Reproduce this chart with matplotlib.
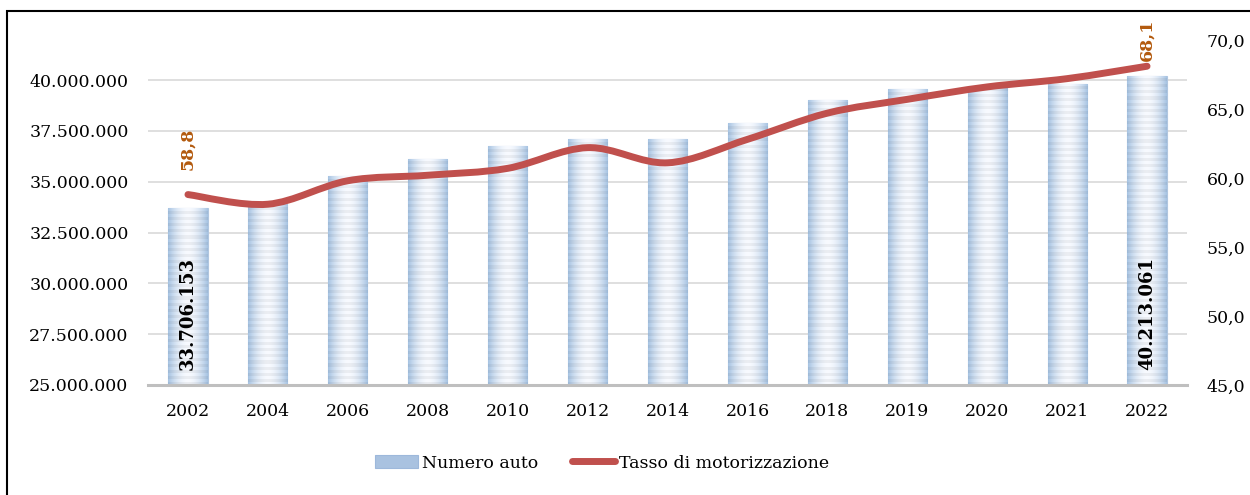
import numpy as np
import matplotlib
matplotlib.use("Agg")
import matplotlib.pyplot as plt
from matplotlib.path import Path
from matplotlib.patches import PathPatch, Rectangle, Patch
from matplotlib.lines import Line2D
from matplotlib.ticker import FuncFormatter

plt.rcParams["font.family"] = ["DejaVu Serif"]

# --- data ---
anni = ["2002", "2004", "2006", "2008", "2010", "2012", "2014",
        "2016", "2018", "2019", "2020", "2021", "2022"]
numero_auto = [33706153, 33900000, 35280000, 36120000, 36750000, 37080000, 37080000,
               37880000, 39020000, 39550000, 39720000, 39820000, 40213061]
tasso_motorizzazione = [58.8, 58.1, 59.8, 60.2, 60.7, 62.2, 61.1,
                        62.8, 64.7, 65.7, 66.6, 67.2, 68.1]
left_ticks = [25000000, 27500000, 30000000, 32500000, 35000000, 37500000, 40000000]
right_ticks = [45.0, 50.0, 55.0, 60.0, 65.0, 70.0]

LINE_C = "#C0504D"
LABEL_C = "#B35A0E"
FS = 12.5


def it_thousands(v, _):
    return f"{int(round(v)):,}".replace(",", ".")


def it_decimal(v, _):
    return f"{v:.1f}".replace(".", ",")


def bar_gradient(n_rows):
    """Horizontal blue-white-blue gradient with thin horizontal stripes."""
    xs = np.linspace(-1, 1, 40)
    t = np.abs(xs) ** 1.8
    edge = np.array([0.66, 0.77, 0.89])
    mid = np.array([0.97, 0.98, 1.00])
    row = mid[None, :] * (1 - t[:, None]) + edge[None, :] * t[:, None]
    img = np.repeat(row[None, :, :], n_rows, axis=0)
    stripes = np.where(np.arange(n_rows) % 2 == 0, 1.0, 0.95)
    return np.clip(img * stripes[:, None, None], 0, 1)


def smooth_path(xs, ys):
    pts = np.column_stack([xs, ys]).astype(float)
    verts = [pts[0]]
    codes = [Path.MOVETO]
    n = len(pts)
    for i in range(n - 1):
        p0 = pts[i - 1] if i > 0 else pts[i]
        p1, p2 = pts[i], pts[i + 1]
        p3 = pts[i + 2] if i + 2 < n else pts[i + 1]
        verts += [p1 + (p2 - p0) / 6, p2 - (p3 - p1) / 6, p2]
        codes += [Path.CURVE4] * 3
    return Path(verts, codes)


fig = plt.figure(figsize=(12.5, 4.95), dpi=100)
ax = fig.add_axes([148 / 1250, 1 - 385 / 495, 1039 / 1250, 345 / 495])
ax2 = ax.twinx()

x = np.arange(len(anni))
bars = ax.bar(x, numero_auto, width=0.49, color="#DCE6F2", edgecolor="#B0C6E0",
              linewidth=0.8, zorder=2)
ymin, ymax = 25000000, 41970000
for b, v in zip(bars, numero_auto):
    n_rows = max(2, int((v - ymin) / 150000))
    im = ax.imshow(bar_gradient(n_rows), aspect="auto", interpolation="nearest",
                   extent=(b.get_x(), b.get_x() + b.get_width(), ymin, v), zorder=2.5)
    im.set_clip_path(b)

ax.set_xlim(-0.5, len(anni) - 0.5)
ax.set_ylim(ymin, ymax)
ax.set_yticks(left_ticks)
ax.yaxis.set_major_formatter(FuncFormatter(it_thousands))
ax.set_xticks(x)
ax.set_xticklabels(anni)
ax.grid(axis="y", color="#D9D9D9", linewidth=1.2, zorder=0)
ax.set_axisbelow(True)
ax.tick_params(axis="y", length=0, pad=14, labelsize=FS)
ax.tick_params(axis="x", length=0, pad=13, labelsize=FS)
for s in ["top", "left", "right"]:
    ax.spines[s].set_visible(False)
ax.spines["bottom"].set_color("#BFBFBF")
ax.spines["bottom"].set_linewidth(2.2)
ax.spines["bottom"].set_zorder(3)

# bar value labels (first and last)
for i in (0, len(anni) - 1):
    ax.annotate(it_thousands(numero_auto[i], None), (x[i], ymin), xytext=(0, 11),
                textcoords="offset points", rotation=90, ha="center", va="bottom",
                fontsize=13, fontweight="bold", color="black", zorder=5)

ax2.set_ylim(45, 70)
ax2.set_yticks(right_ticks)
ax2.yaxis.set_major_formatter(FuncFormatter(it_decimal))
ax2.tick_params(axis="y", length=0, pad=14, labelsize=FS)
for s in ["top", "left", "right", "bottom"]:
    ax2.spines[s].set_visible(False)
line = PathPatch(smooth_path(x, tasso_motorizzazione), fill=False, edgecolor=LINE_C,
                 linewidth=5, capstyle="round", joinstyle="round", zorder=4)
ax2.add_patch(line)

ax2.annotate(it_decimal(tasso_motorizzazione[0], None), (x[0], tasso_motorizzazione[0]),
             xytext=(0, 18), textcoords="offset points", rotation=90, ha="center",
             va="bottom", fontsize=FS, fontweight="bold", color=LABEL_C)
ax2.annotate(it_decimal(tasso_motorizzazione[-1], None), (x[-1], tasso_motorizzazione[-1]),
             xytext=(0, 4), textcoords="offset points", rotation=90, ha="center",
             va="bottom", fontsize=FS, fontweight="bold", color=LABEL_C)

handles = [Patch(facecolor="#A9C2E0", edgecolor="#9DB8DB", linewidth=0.8),
           Line2D([0], [0], color=LINE_C, linewidth=5, solid_capstyle="round")]
fig.legend(handles, ["Numero auto", "Tasso di motorizzazione"], loc="center",
           bbox_to_anchor=(602 / 1250, 1 - 463 / 495), ncol=2, frameon=False,
           fontsize=FS, handlelength=2.5, handleheight=0.7, handletextpad=0.25,
           columnspacing=1.9)

# chart frame
fig.patches.append(Rectangle((7 / 1250, -0.05), 1.1, 1 - 11 / 495 + 0.05,
                             transform=fig.transFigure, fill=False,
                             edgecolor="black", linewidth=1.5))

fig.savefig("out.png", dpi=100)
